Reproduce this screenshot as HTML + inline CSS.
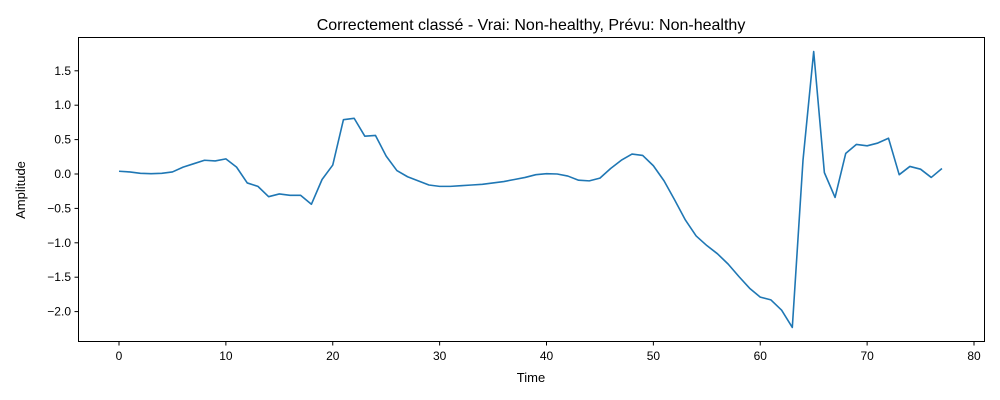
<!DOCTYPE html>
<html><head><meta charset="utf-8"><style>body{margin:0;background:#fff}svg{display:block;font-family:"Liberation Sans","DejaVu Sans",sans-serif}</style></head>
<body>
<svg id="chart" width="1000" height="400" xmlns="http://www.w3.org/2000/svg">
<rect width="1000" height="400" fill="#fff"/>
<text x="531" y="30" text-anchor="middle" font-size="16">Correctement classé - Vrai: Non-healthy, Prévu: Non-healthy</text>
<g id="axes"></g>
<rect x="78.5" y="37.5" width="906" height="304" fill="none" stroke="#000" stroke-width="1"/>
<text x="531" y="382" text-anchor="middle" font-size="13">Time</text>
<text transform="translate(25,190) rotate(-90)" text-anchor="middle" font-size="13">Amplitude</text>
</svg>
<script>
const amplitude=[0.04,0.03,0.01,0.005,0.01,0.03,0.1,0.15,0.2,0.19,0.22,0.1,-0.13,-0.18,-0.33,-0.29,-0.31,-0.31,-0.44,-0.08,0.13,0.79,0.81,0.55,0.56,0.26,0.05,-0.04,-0.1,-0.16,-0.18,-0.18,-0.17,-0.16,-0.15,-0.13,-0.11,-0.08,-0.05,-0.01,0.005,0.0,-0.03,-0.09,-0.1,-0.06,0.08,0.2,0.29,0.27,0.12,-0.1,-0.38,-0.67,-0.9,-1.04,-1.16,-1.31,-1.49,-1.66,-1.79,-1.83,-1.98,-2.23,0.2,1.78,0.02,-0.34,0.3,0.43,0.41,0.45,0.52,-0.01,0.11,0.07,-0.05,0.08];
const xTicks=[0,10,20,30,40,50,60,70,80];
const yTicks=[-2.0,-1.5,-1.0,-0.5,0.0,0.5,1.0,1.5];
const NS="http://www.w3.org/2000/svg";
function xs(v){return 119+v*10.6875;}
function ys(v){return 174-v*68.8;}
const g=document.getElementById('axes');
function mk(t,a){const e=document.createElementNS(NS,t);for(const k in a)e.setAttribute(k,a[k]);return e;}
xTicks.forEach(t=>{
 const l=mk('line',{x1:xs(t),x2:xs(t),y1:342,y2:345.5,stroke:'#000'});
 
 
 g.appendChild(l);
 const tx=mk('text',{x:xs(t),y:360,'text-anchor':'middle','font-size':'12'});
 
 
 tx.textContent=t;g.appendChild(tx);
});
yTicks.forEach(t=>{
 const l=mk('line',{x1:74.5,x2:78,y1:ys(t),y2:ys(t),stroke:'#000'});
 
 
 g.appendChild(l);
 const tx=mk('text',{x:71,y:ys(t)+4,'text-anchor':'end','font-size':'12'});
 
 
 tx.textContent=(t<0?'\u2212':'')+Math.abs(t).toFixed(1);g.appendChild(tx);
});
const p=mk('polyline',{points:amplitude.map((v,i)=>xs(i)+','+ys(v)).join(' '),fill:'none',stroke:'#1f77b4','stroke-width':'1.6','stroke-linejoin':'round'});


g.appendChild(p);
</script>
</body></html>
